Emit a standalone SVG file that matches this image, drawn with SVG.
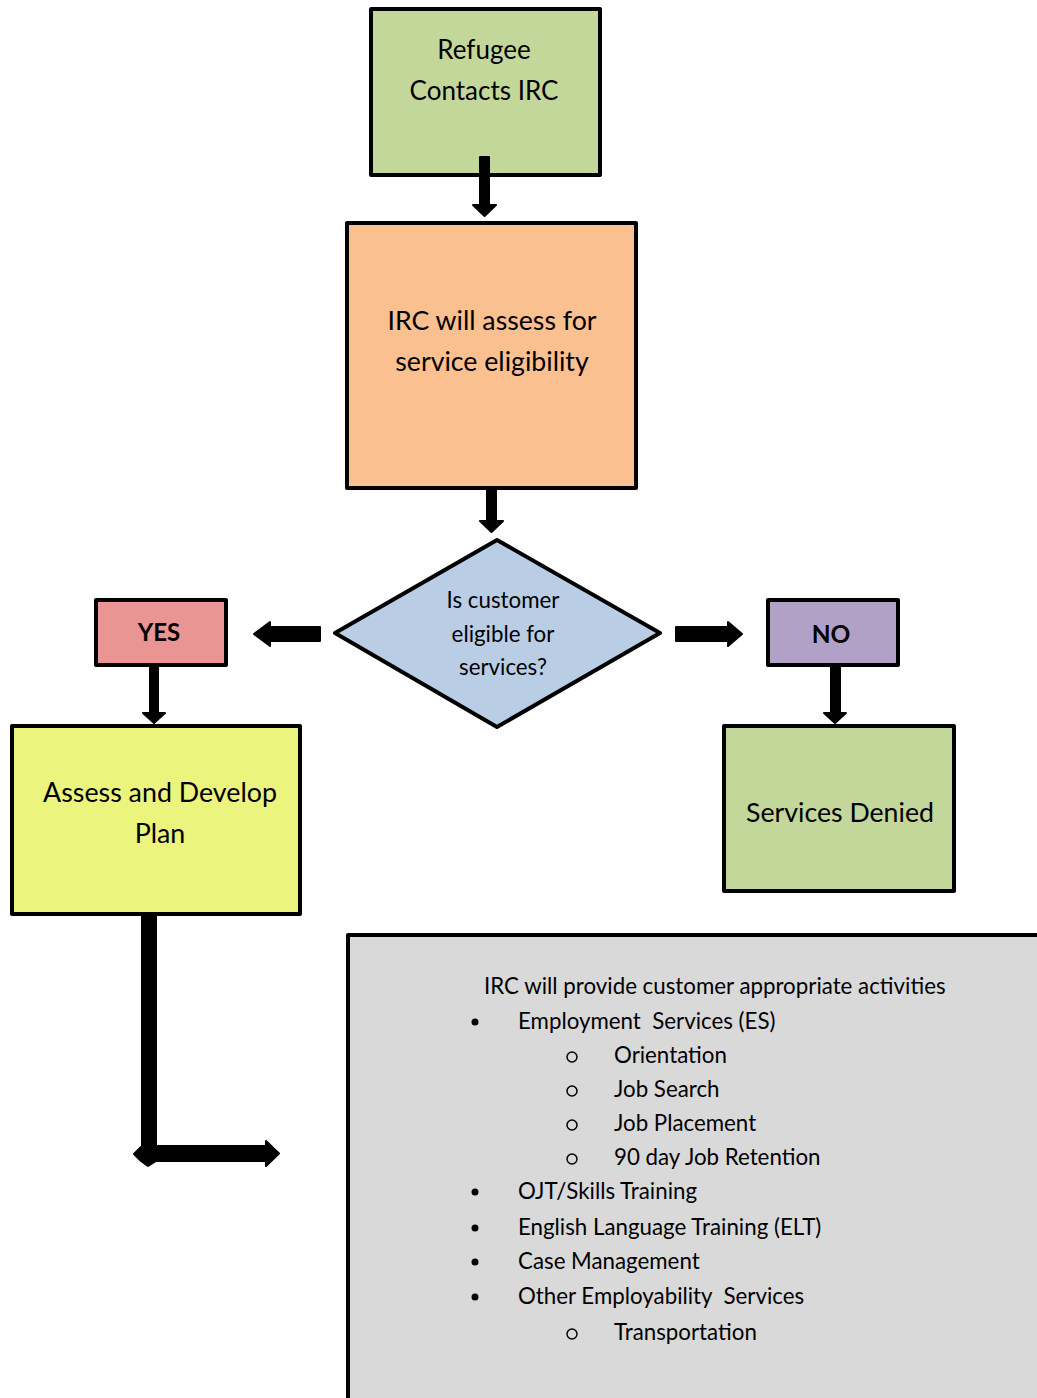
<svg xmlns="http://www.w3.org/2000/svg" width="1037" height="1398" viewBox="0 0 1037 1398">
<style>
.box{stroke:#000;stroke-width:4;stroke-linejoin:round}
.t{font-family:Lato,"Liberation Sans",sans-serif;fill:#000;text-anchor:middle}
.l{font-family:Lato,"Liberation Sans",sans-serif;fill:#000;font-size:22.3px}
.arr{fill:#000;stroke:#000;stroke-width:2;stroke-linejoin:round}
</style>
<rect width="1037" height="1398" fill="#fff"/>
<g id="refugee">
<rect class="box" x="371" y="9" width="229" height="166" fill="#C4D79B"/>
<text class="t" font-size="26" x="484" y="59">Refugee</text>
<text class="t" font-size="26" x="484" y="100">Contacts IRC</text>
</g>
<g id="assess-eligibility">
<rect class="box" x="347" y="223" width="289" height="265" fill="#FAC090"/>
<text class="t" font-size="26.7" x="492" y="330">IRC will assess for</text>
<text class="t" font-size="26.7" x="492" y="371">service eligibility</text>
</g>
<g id="decision">
<polygon class="box" points="497,540 660,633 497,727 335,633" fill="#B9CDE5"/>
<text class="t" font-size="22.3" x="503" y="608">Is customer</text>
<text class="t" font-size="22.3" x="503" y="642">eligible for</text>
<text class="t" font-size="22.3" x="503" y="675">services?</text>
</g>
<g id="yes">
<rect class="box" x="96" y="600" width="130" height="65" fill="#E99594"/>
<text class="t" font-size="24" font-weight="bold" x="159" y="641">YES</text>
</g>
<g id="no">
<rect class="box" x="768" y="600" width="130" height="65" fill="#B2A1C7"/>
<text class="t" font-size="24.5" font-weight="bold" x="831" y="643">NO</text>
</g>
<g id="plan">
<rect class="box" x="12" y="726" width="288" height="188" fill="#EBF47D"/>
<text class="t" font-size="26.8" x="160" y="802">Assess and Develop</text>
<text class="t" font-size="26.8" x="160" y="843">Plan</text>
</g>
<g id="denied">
<rect class="box" x="724" y="726" width="230" height="165" fill="#C4D79B"/>
<text class="t" font-size="26.7" x="840" y="822">Services Denied</text>
</g>
<g id="activities">
<rect class="box" x="348" y="935" width="695" height="470" fill="#D9D9D9"/>
<text class="l" x="484" y="994">IRC will provide customer appropriate activities</text>
<g fill="#000">
<circle cx="475" cy="1022" r="3.5"/>
<circle cx="475" cy="1192" r="3.5"/>
<circle cx="475" cy="1228" r="3.5"/>
<circle cx="475" cy="1262" r="3.5"/>
<circle cx="475" cy="1297" r="3.5"/>
</g>
<g fill="none" stroke="#000" stroke-width="1.5">
<circle cx="572" cy="1057" r="5"/>
<circle cx="572" cy="1091" r="5"/>
<circle cx="572" cy="1125" r="5"/>
<circle cx="572" cy="1159" r="5"/>
<circle cx="572" cy="1334" r="5"/>
</g>
<text class="l" x="518" y="1029" xml:space="preserve">Employment  Services (ES)</text>
<text class="l" x="614" y="1063">Orientation</text>
<text class="l" x="614" y="1097">Job Search</text>
<text class="l" x="614" y="1131">Job Placement</text>
<text class="l" x="614" y="1165">90 day Job Retention</text>
<text class="l" x="518" y="1199">OJT/Skills Training</text>
<text class="l" x="518" y="1235">English Language Training (ELT)</text>
<text class="l" x="518" y="1269">Case Management</text>
<text class="l" x="518" y="1304" xml:space="preserve">Other Employability  Services</text>
<text class="l" x="614" y="1340">Transportation</text>
</g>
<g id="connectors">
<polygon class="arr" points="480,157 489,157 489,205 496,205 484.5,216 473,205 480,205"/>
<polygon class="arr" points="487,489 496,489 496,521 503,521 491.5,532 480,521 487,521"/>
<polygon class="arr" points="320,627 320,641 270,641 270,646 254,634 270,622 270,627"/>
<polygon class="arr" points="676,627 728,627 728,622 742,634 728,646 728,641 676,641"/>
<polygon class="arr" points="150,666 158,666 158,713 165,713 154,723 143,713 150,713"/>
<polygon class="arr" points="831,666 840,666 840,713 846,713 835,723 824,713 831,713"/>
<polygon class="arr" points="142,914 156,914 156,1146 266,1146 266,1141 279,1153.5 266,1166 266,1161 156,1161 148,1166 141,1161 134,1154 142,1146"/>
</g>
</svg>
